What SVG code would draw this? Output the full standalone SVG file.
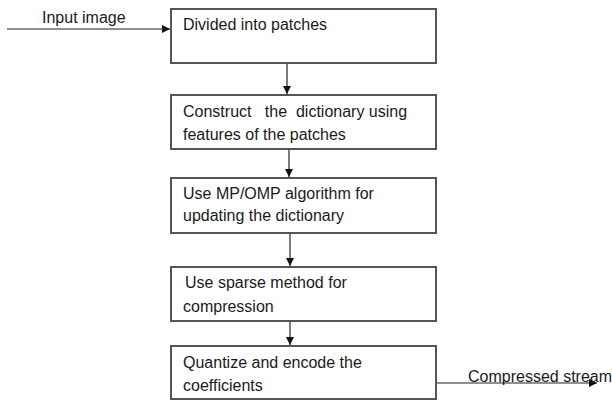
<svg xmlns="http://www.w3.org/2000/svg" width="612" height="401" viewBox="0 0 612 401">
<defs>
<marker id="ah" viewBox="0 0 10 10" refX="10" refY="5" markerWidth="8" markerHeight="8" markerUnits="userSpaceOnUse" orient="auto">
<path d="M0,0 L10,5 L0,10 z" fill="#111"/>
</marker>
<style>
.box{fill:#fff;stroke:#555;stroke-width:2}
.t{font-family:"Liberation Sans",Arial,sans-serif;font-size:16px;fill:#1a1a1a;white-space:pre}
.c{stroke:#222;stroke-width:1.2;fill:none}
</style>
</defs>
<rect width="612" height="401" fill="#fff"/>
<g id="connectors">
<line class="c" x1="7" y1="29" x2="170" y2="29" marker-end="url(#ah)"/>
<line class="c" x1="287" y1="63" x2="287" y2="94" marker-end="url(#ah)"/>
<line class="c" x1="289" y1="149" x2="289" y2="177" marker-end="url(#ah)"/>
<line class="c" x1="290" y1="233" x2="290" y2="266" marker-end="url(#ah)"/>
<line class="c" x1="290" y1="321" x2="290" y2="345" marker-end="url(#ah)"/>
<line class="c" x1="436" y1="383" x2="597" y2="383" marker-end="url(#ah)"/>
<text class="t" x="42" y="23">Input image</text>
<text class="t" x="468" y="382">Compressed stream</text>
</g>
<g id="n1">
<rect class="box" x="171" y="9" width="265" height="54"/>
<text class="t" x="183" y="30">Divided into patches</text>
</g>
<g id="n2">
<rect class="box" x="171" y="95" width="265" height="54"/>
<text class="t" x="183" y="117">Construct   the  dictionary using</text>
<text class="t" x="183" y="140">features of the patches</text>
</g>
<g id="n3">
<rect class="box" x="171" y="178" width="265" height="55"/>
<text class="t" x="183" y="199">Use MP/OMP algorithm for</text>
<text class="t" x="183" y="221">updating the dictionary</text>
</g>
<g id="n4">
<rect class="box" x="171" y="267" width="265" height="54"/>
<text class="t" x="185" y="288">Use sparse method for</text>
<text class="t" x="183" y="312">compression</text>
</g>
<g id="n5">
<rect class="box" x="171" y="346" width="265" height="53"/>
<text class="t" x="183" y="368">Quantize and encode the</text>
<text class="t" x="183" y="391">coefficients</text>
</g>
</svg>
